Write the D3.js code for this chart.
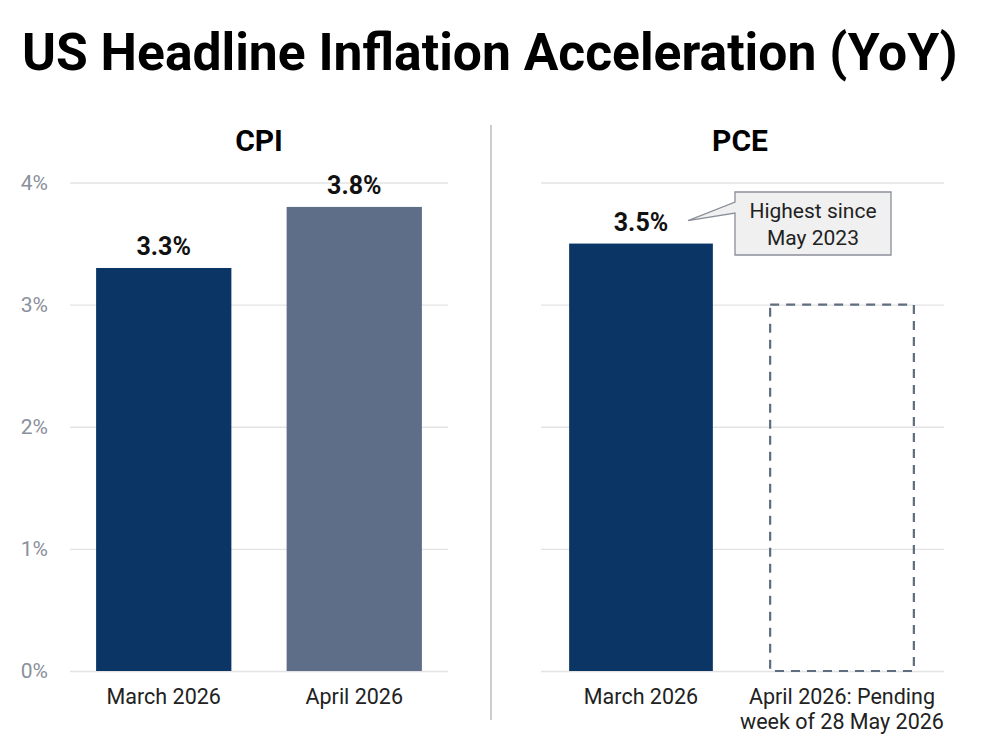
<!DOCTYPE html>
<html><head><meta charset="utf-8">
<script src="https://cdn.jsdelivr.net/npm/d3@7"></script>
<style>body{margin:0;background:#fff;} text{font-family:Roboto,"Noto Sans",sans-serif;}</style>
</head><body>
<svg id="c" width="983" height="734"></svg>
<script>
const title = "US Headline Inflation Acceleration (YoY)";
const panels = ["CPI", "PCE"];
const cpiCategories = ["March 2026", "April 2026"];
const cpiValues = [3.3, 3.8];
const pceCategories = ["March 2026", "April 2026: Pending|week of 28 May 2026"];
const pceValues = [3.5, null];
const pcePlaceholder = 3.0;
const yTicks = [0, 1, 2, 3, 4];
const callout = ["Highest since", "May 2023"];

const svg = d3.select("#c");
svg.append("text").attr("x", 22).attr("y", 70).attr("font-size", 51.6).attr("font-weight", 700)
  .attr("fill", "#000").text(title);

const y = d3.scaleLinear().domain([0, 4]).range([671, 182.5]);

function panel(cfg) {
  const g = svg.append("g");
  const x = d3.scaleBand().domain(cfg.cats).range(cfg.range).paddingInner(cfg.pi).paddingOuter(cfg.po);
  const w = cfg.grid[1] - cfg.grid[0];
  const ag = g.append("g").attr("transform", `translate(${cfg.grid[1]},0)`);
  ag.call(d3.axisRight(y).tickValues(yTicks).tickSize(-w).tickFormat(d => cfg.showTicks ? d + "%" : ""));
  ag.select(".domain").remove();
  ag.selectAll(".tick line").attr("stroke", "#e3e3e3").attr("stroke-width", 1.3);
  ag.selectAll(".tick text").attr("x", -w - 22).attr("text-anchor", "end")
    .attr("font-size", 21).attr("fill", "#8a909b").attr("font-family", "Roboto");
  g.append("text").attr("x", cfg.titleX).attr("y", 151).attr("text-anchor", "middle")
    .attr("font-size", 30).attr("font-weight", 700).attr("fill", "#000").text(cfg.name);
  cfg.vals.forEach((v, i) => {
    const c = cfg.cats[i];
    if (v != null) {
      g.append("rect").attr("x", x(c)).attr("y", y(v)).attr("width", x.bandwidth()).attr("height", y(0) - y(v))
        .attr("fill", cfg.colors[i]);
      g.append("text").attr("x", x(c) + x.bandwidth() / 2).attr("y", y(v) - 13).attr("text-anchor", "middle")
        .attr("font-size", 25).attr("font-weight", 700).attr("fill", "#111").text(v.toFixed(1) + "%");
    } else {
      g.append("rect").attr("x", x(c)).attr("y", y(cfg.placeholder)).attr("width", x.bandwidth())
        .attr("height", y(0) - y(cfg.placeholder)).attr("fill", "none").attr("stroke", "#5f6d80")
        .attr("stroke-width", 2.2).attr("stroke-dasharray", "9,7");
    }
    c.split("|").forEach((l, j) => {
      g.append("text").attr("x", x(c) + x.bandwidth() / 2).attr("y", 704 + j * 25).attr("text-anchor", "middle")
        .attr("font-size", 21.5).attr("fill", "#222").text(l);
    });
  });
  return x;
}

panel({name: "CPI", cats: cpiCategories, vals: cpiValues, range: [70, 448], pi: 0.29, po: 0.137,
  grid: [70, 448], titleX: 259, colors: ["#0b3564", "#5e6e88"], showTicks: true});
panel({name: "PCE", cats: pceCategories, vals: pceValues, range: [541, 942], pi: 0.285, po: 0.14,
  grid: [541, 944], titleX: 740, colors: ["#0b3564", "#5e6e88"], placeholder: pcePlaceholder, showTicks: false});

svg.append("line").attr("x1", 491).attr("x2", 491).attr("y1", 125).attr("y2", 720)
  .attr("stroke", "#bdbdbd").attr("stroke-width", 1.5);

const cg = svg.append("g");
const bx = 735, by = 192, bw = 156, bh = 63;
cg.append("path").attr("d", `M${bx},${by + 10} L${bx},${by} L${bx + bw},${by} L${bx + bw},${by + bh} L${bx},${by + bh} L${bx},${by + 21} L688,${y(3.5) - 23} Z`)
  .attr("fill", "#f0f0f0").attr("stroke", "#8a8f99").attr("stroke-width", 1.3).attr("stroke-linejoin", "miter");
callout.forEach((t, i) => {
  cg.append("text").attr("x", bx + bw / 2).attr("y", by + 26 + i * 27).attr("text-anchor", "middle")
    .attr("font-size", 21).attr("fill", "#222").text(t);
});
</script>
</body></html>
